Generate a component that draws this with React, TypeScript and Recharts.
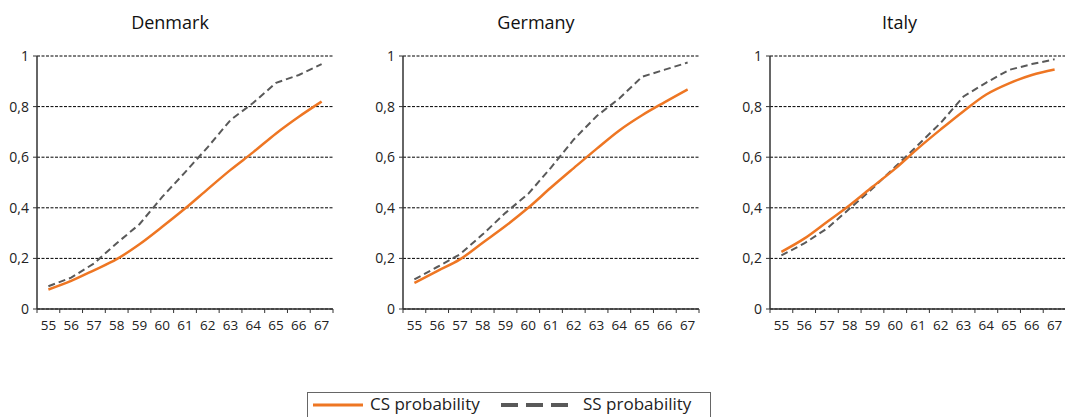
import { CartesianGrid, Line, LineChart, XAxis, YAxis } from 'recharts';

const ages = ['55', '56', '57', '58', '59', '60', '61', '62', '63', '64', '65', '66', '67'];
const yTicks = [0, 0.2, 0.4, 0.6, 0.8, 1];

const denmarkCS = [0.077, 0.111, 0.153, 0.197, 0.256, 0.325, 0.397, 0.474, 0.55, 0.62, 0.694, 0.76, 0.82];
const denmarkSS = [0.09, 0.124, 0.18, 0.26, 0.335, 0.443, 0.54, 0.64, 0.747, 0.815, 0.894, 0.925, 0.968];
const germanyCS = [0.103, 0.15, 0.196, 0.262, 0.328, 0.4, 0.48, 0.557, 0.633, 0.706, 0.766, 0.818, 0.868];
const germanySS = [0.117, 0.166, 0.216, 0.295, 0.38, 0.455, 0.559, 0.67, 0.762, 0.832, 0.918, 0.946, 0.974];
const italyCS = [0.226, 0.278, 0.344, 0.41, 0.483, 0.555, 0.635, 0.71, 0.782, 0.848, 0.892, 0.925, 0.947];
const italySS = [0.212, 0.259, 0.318, 0.397, 0.476, 0.562, 0.648, 0.736, 0.84, 0.895, 0.945, 0.968, 0.987];

const ORANGE = '#EE7623';
const GREY = '#595959';
const FONT = '"Open Sans", sans-serif';

const PLOT_W = 296;
const BAND = PLOT_W / ages.length;

const buildRows = (cs: number[], ss: number[]) => ages.map((age, i) => ({ age, cs: cs[i], ss: ss[i] }));

const fmt = (v: number) => String(v).replace('.', ',');

function AgeTick(props: any) {
    const { x, y, payload, index } = props;
    return (
        <g>
            <line x1={x - BAND / 2} x2={x - BAND / 2} y1={y} y2={y + 4} stroke="#333" />
            {index === ages.length - 1 && <line x1={x + BAND / 2} x2={x + BAND / 2} y1={y} y2={y + 4} stroke="#333" />}
            <text x={x} y={y + 21} textAnchor="middle" fontSize={13.5} fill="#222" fontFamily={FONT}>
                {payload.value}
            </text>
        </g>
    );
}

function Panel({ title, cs, ss, left, width }: { title: string; cs: number[]; ss: number[]; left: number; width: number }) {
    return (
        <div style={{ position: 'absolute', left, top: 0, width }}>
            <div
                style={{
                    position: 'absolute',
                    top: 10,
                    width,
                    textAlign: 'center',
                    fontFamily: FONT,
                    fontSize: 18,
                    color: '#111',
                }}
            >
                {title}
            </div>
            <LineChart width={width} height={339} data={buildRows(cs, ss)} margin={{ top: 56, right: width - 37 - PLOT_W, left: 0, bottom: 0 }}>
                <CartesianGrid vertical={false} stroke="#000" strokeDasharray="3 1.5" />
                <XAxis
                    dataKey="age"
                    interval={0}
                    height={30}
                    padding={{ left: BAND / 2, right: BAND / 2 }}
                    tickLine={false}
                    tickSize={0}
                    tickMargin={0}
                    axisLine={{ stroke: '#333', strokeWidth: 1.5 }}
                    tick={<AgeTick />}
                />
                <YAxis
                    width={37}
                    domain={[0, 1]}
                    ticks={yTicks}
                    tickFormatter={fmt}
                    tickSize={4}
                    tickMargin={4}
                    axisLine={{ stroke: '#333', strokeWidth: 1.5 }}
                    tickLine={{ stroke: '#333' }}
                    tick={{ fontSize: 14, fill: '#222', fontFamily: FONT }}
                />
                <Line dataKey="ss" stroke={GREY} strokeWidth={2} strokeDasharray="7 4" dot={false} type="linear" isAnimationActive={false} />
                <Line dataKey="cs" stroke={ORANGE} strokeWidth={2.5} dot={false} type="monotone" isAnimationActive={false} />
            </LineChart>
        </div>
    );
}

export default function App() {
    return (
        <div style={{ position: 'absolute', left: 0, top: 0, width: 1065, height: 417, overflow: 'hidden', background: '#fff' }}>
            <Panel title="Denmark" cs={denmarkCS} ss={denmarkSS} left={0} width={340} />
            <Panel title="Germany" cs={germanyCS} ss={germanySS} left={366} width={340} />
            <Panel title="Italy" cs={italyCS} ss={italySS} left={733} width={333} />
            <div
                style={{
                    position: 'absolute',
                    left: 307,
                    top: 392,
                    width: 402,
                    height: 40,
                    border: '1px solid #666',
                    fontFamily: FONT,
                    fontSize: 17,
                    color: '#222',
                }}
            >
                <svg width={52} height={10} style={{ position: 'absolute', left: 5, top: 7 }}>
                    <line x1={0} x2={50} y1={5} y2={5} stroke={ORANGE} strokeWidth={3} />
                </svg>
                <span style={{ position: 'absolute', left: 62, top: -1 }}>CS probability</span>
                <svg width={74} height={10} style={{ position: 'absolute', left: 193, top: 7 }}>
                    <line x1={0} x2={72} y1={5} y2={5} stroke={GREY} strokeWidth={4} strokeDasharray="17 8" />
                </svg>
                <span style={{ position: 'absolute', left: 275, top: -1 }}>SS probability</span>
            </div>
        </div>
    );
}
